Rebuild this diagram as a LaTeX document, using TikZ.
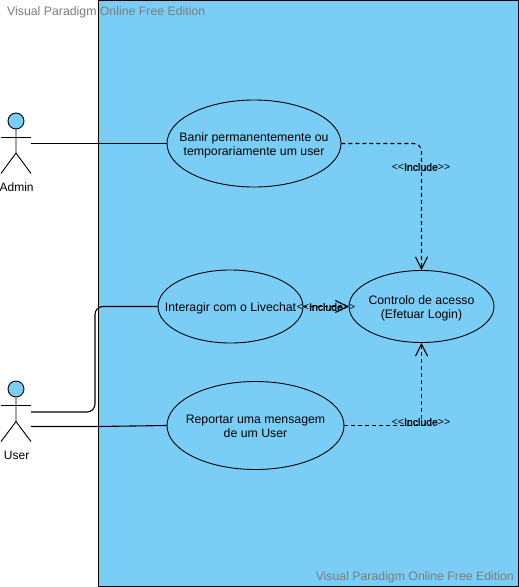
\documentclass[tikz,border=0pt]{standalone}
\usepackage{fontspec}
\setmainfont{Liberation Sans}
\usetikzlibrary{shapes.geometric,arrows.meta}
\definecolor{sysblue}{HTML}{7ACEF6}
\definecolor{wm}{HTML}{7C7C7C}
\newfontfamily\incfont[FakeBold=1.2]{Liberation Sans}
\newcommand{\uctext}[1]{\makebox[0pt]{\raisebox{-5pt}[0pt][0pt]{\begin{tabular}{@{}c@{}}#1\end{tabular}}}}
\tikzset{
  usecase/.style={ellipse,draw=black,fill=sysblue,line width=0.9pt,inner sep=0pt,font=\fontsize{12.3}{14}\selectfont},
  wire/.style={draw=black,line width=1.1pt},
  incl/.style={draw=black,line width=1.1pt,dash pattern=on 4pt off 3pt,-{Straight Barb[length=12pt,width=12pt,line width=1.1pt]}},
  inclabel/.style={inner sep=0pt,font=\fontsize{10.5}{12}\selectfont},
  actorname/.style={inner sep=0pt,font=\fontsize{12}{14}\selectfont},
  mark text/.style={inner sep=0pt,text=wm,font=\fontsize{12.3}{14}\selectfont},
  stick/.style={draw=black,line width=0.9pt},
  headc/.style={circle,draw=black,fill=sysblue,line width=0.9pt,minimum size=16pt,inner sep=0pt},
}
\begin{document}
\begin{tikzpicture}[x=1pt,y=-1pt]
\useasboundingbox (0,0) rectangle (519,587);
\fill[white] (0,0) rectangle (519,587);
\draw[draw=black,fill=sysblue,line width=1.1pt] (98.5,0.5) rectangle (518.5,586.5);

% use cases
\node[usecase,minimum width=174pt,minimum height=87pt] (banir) at (254,143.5) {\uctext{Banir permanentemente ou\\temporariamente um user}};
\node[usecase,minimum width=145pt,minimum height=73pt] (inter) at (230.5,306.5) {\uctext{Interagir com o Livechat}};
\node[usecase,minimum width=145pt,minimum height=72pt] (ctrl) at (421.5,306.5) {\uctext{Controlo de acesso\\(Efetuar Login)}};
\node[usecase,minimum width=177pt,minimum height=88pt] (rep) at (255.5,425.5) {\uctext{Reportar uma mensagem\\de um User}};

% actors
\node[headc] (ahead) at (16,121) {};
\draw[stick] (ahead.south) -- (16,153) -- (1,173.5);
\draw[stick] (16,153) -- (31,173.5);
\draw[stick] (1,137) -- (31,137);
\node[actorname] (aname) at (16.6,187) {Admin};
\coordinate (aport) at (31,143.5);

\node[headc] (uhead) at (16,389) {};
\draw[stick] (uhead.south) -- (16,421.5) -- (1,441.5);
\draw[stick] (16,421.5) -- (31,441.5);
\draw[stick] (1,405) -- (31,405);
\node[actorname] (uname) at (16.6,455) {User};
\coordinate (uporta) at (31,412);
\coordinate (uportb) at (31,426.5);

% associations
\draw[wire] (aport) -- (banir.west);
\draw[wire,rounded corners=8pt] (uporta) -| (95,306.5) -- (inter.west);
\draw[wire] (uportb) -- (98,426.5) -- (rep.west);

% includes
\draw[incl,rounded corners=8pt] (banir.east) -| (ctrl.north);
\draw[incl] (inter.east) -- (ctrl.west);
\draw[incl] (rep.east) -| (ctrl.south);

\node[inclabel] (l1) at (421,167) {<{}<{\incfont Include}>{}>};
\node[inclabel] (l2) at (326,307) {<{}<{\incfont Include}>{}>};
\node[inclabel] (l3) at (421,422) {<{}<{\incfont Include}>{}>};

% watermarks
\node[mark text,anchor=west] (w1) at (7,12) {Visual Paradigm Online Free Edition};
\node[mark text,anchor=east] (w2) at (514,577.5) {Visual Paradigm Online Free Edition};
\end{tikzpicture}
\end{document}
